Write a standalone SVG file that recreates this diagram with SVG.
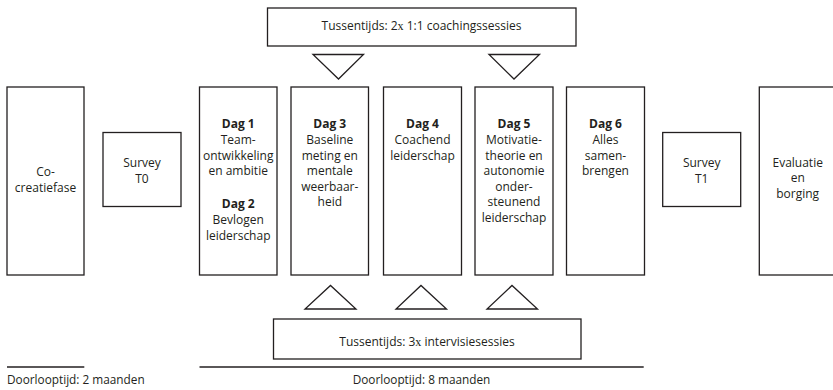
<svg xmlns="http://www.w3.org/2000/svg" width="833" height="390" viewBox="0 0 833 390">
<style>
.b{fill:#fff;stroke:#231f20;stroke-width:1.3}
.t{font-family:"Open Sans","Noto Sans",sans-serif;font-size:12px;fill:#231f20;text-anchor:middle}
.h{font-weight:bold}
.x{font-family:"Liberation Serif",serif}
.l{stroke:#231f20;stroke-width:1.3;fill:none}
.s{font-family:"Open Sans","Noto Sans",sans-serif;font-size:11.8px;fill:#231f20}
</style>
<rect width="833" height="390" fill="#fff"/>
<g id="top">
<rect class="b" x="267.5" y="8" width="308.5" height="38"/>
<text class="t" x="421.5" y="30">Tussentijds: 2<tspan class="x">x</tspan> 1:1 coachingssessies</text>
</g>
<g id="bottom">
<rect class="b" x="273.5" y="319" width="307.5" height="40"/>
<text class="t" x="427" y="346">Tussentijds: 3<tspan class="x">x</tspan> intervisiesessies</text>
</g>
<g id="connectors">
<polygon class="l" points="313,54.5 363.5,54.5 338.5,79"/>
<polygon class="l" points="489,54.5 539.5,54.5 514,79"/>
<polygon class="l" points="305,309 356,309 330.5,285.5"/>
<polygon class="l" points="396,309 446.5,309 421,285.5"/>
<polygon class="l" points="487,309 537.5,309 512,285.5"/>
</g>
<g id="cocreatie">
<rect class="b" x="7" y="87" width="77" height="188"/>
<text class="t" x="45.5" y="176">Co-</text>
<text class="t" x="45.5" y="191.7">creatiefase</text>
</g>
<g id="survey0">
<rect class="b" x="103" y="132.5" width="78" height="74"/>
<text class="t" x="142" y="167.2">Survey</text>
<text class="t" x="142" y="182.8">T0</text>
</g>
<g id="dag12">
<rect class="b" x="199.5" y="87" width="77.5" height="188"/>
<text class="t h" x="238.2" y="128.3">Dag 1</text>
<text class="t" x="238.2" y="144">Team-</text>
<text class="t" x="238.2" y="159.6">ontwikkeling</text>
<text class="t" x="238.2" y="175.2">en ambitie</text>
<text class="t h" x="238.2" y="208.3">Dag 2</text>
<text class="t" x="238.2" y="224">Bevlogen</text>
<text class="t" x="238.2" y="239.6">leiderschap</text>
</g>
<g id="dag3">
<rect class="b" x="291" y="87" width="77.5" height="188"/>
<text class="t h" x="329.8" y="128.3">Dag 3</text>
<text class="t" x="329.8" y="144">Baseline</text>
<text class="t" x="329.8" y="159.6">meting en</text>
<text class="t" x="329.8" y="175.2">mentale</text>
<text class="t" x="329.8" y="190.8">weerbaar-</text>
<text class="t" x="329.8" y="206.4">heid</text>
</g>
<g id="dag4">
<rect class="b" x="383.5" y="87" width="78" height="188"/>
<text class="t h" x="422.5" y="128.3">Dag 4</text>
<text class="t" x="422.5" y="144">Coachend</text>
<text class="t" x="422.5" y="159.6">leiderschap</text>
</g>
<g id="dag5">
<rect class="b" x="475" y="87" width="78" height="188"/>
<text class="t h" x="514" y="128.3">Dag 5</text>
<text class="t" x="514" y="144">Motivatie-</text>
<text class="t" x="514" y="159.6">theorie en</text>
<text class="t" x="514" y="175.2">autonomie</text>
<text class="t" x="514" y="190.8">onder-</text>
<text class="t" x="514" y="206.4">steunend</text>
<text class="t" x="514" y="222">leiderschap</text>
</g>
<g id="dag6">
<rect class="b" x="566.5" y="87" width="78" height="188"/>
<text class="t h" x="605.5" y="128.3">Dag 6</text>
<text class="t" x="605.5" y="144">Alles</text>
<text class="t" x="605.5" y="159.6">samen-</text>
<text class="t" x="605.5" y="175.2">brengen</text>
</g>
<g id="survey1">
<rect class="b" x="662.7" y="132.5" width="78" height="74"/>
<text class="t" x="701.7" y="167.2">Survey</text>
<text class="t" x="701.7" y="182.8">T1</text>
</g>
<g id="evaluatie">
<rect class="b" x="759.3" y="87" width="77" height="188"/>
<text class="t" x="797.7" y="166.8">Evaluatie</text>
<text class="t" x="797.7" y="182.4">en</text>
<text class="t" x="797.7" y="198">borging</text>
</g>
<g id="durations">
<line class="l" x1="7" y1="367" x2="84.3" y2="367"/>
<line class="l" x1="199.5" y1="367" x2="643.7" y2="367"/>
<text class="s" x="7" y="384.3">Doorlooptijd: 2 maanden</text>
<text class="s" x="421.5" y="384.3" text-anchor="middle">Doorlooptijd: 8 maanden</text>
</g>
</svg>
